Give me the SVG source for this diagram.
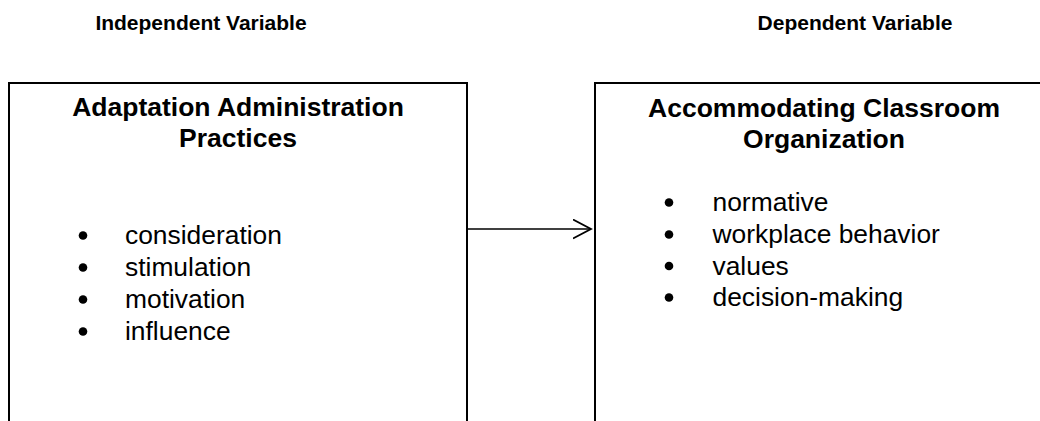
<svg xmlns="http://www.w3.org/2000/svg" width="1040" height="421" viewBox="0 0 1040 421">
  <style>
    .hdr { font-family: "Liberation Sans", Arial, sans-serif; font-weight: bold; font-size: 21px; fill: #000; text-anchor: middle; }
    .ttl { font-family: "Liberation Sans", Arial, sans-serif; font-weight: bold; font-size: 26.5px; fill: #000; text-anchor: middle; }
    .itm { font-family: "Liberation Sans", Arial, sans-serif; font-size: 26.4px; fill: #000; }
    .box { fill: #fff; stroke: #000; stroke-width: 2; }
    .bul { fill: #000; }
    .con { stroke: #000; stroke-width: 1.6; fill: none; }
  </style>
  <defs>
    <marker id="open" markerWidth="20" markerHeight="22" refX="18" refY="10" orient="auto" markerUnits="userSpaceOnUse">
      <polyline points="0,0.5 18,10 0,19.5" fill="none" stroke="#000" stroke-width="1.8"/>
    </marker>
  </defs>
  <rect width="1040" height="421" fill="#fff"/>
  <g id="header-independent">
    <text class="hdr" x="201" y="30">Independent Variable</text>
  </g>
  <g id="header-dependent">
    <text class="hdr" x="855" y="30">Dependent Variable</text>
  </g>
  <g id="node-independent">
    <rect class="box" x="9" y="83" width="458" height="400"/>
    <text class="ttl" x="238" y="116">Adaptation Administration</text>
    <text class="ttl" x="238" y="147">Practices</text>
    <circle class="bul" cx="83" cy="235.5" r="4.3"/>
    <text class="itm" x="125" y="244">consideration</text>
    <circle class="bul" cx="83" cy="267.5" r="4.3"/>
    <text class="itm" x="125" y="276">stimulation</text>
    <circle class="bul" cx="83" cy="299.5" r="4.3"/>
    <text class="itm" x="125" y="308">motivation</text>
    <circle class="bul" cx="83" cy="331.5" r="4.3"/>
    <text class="itm" x="125" y="340">influence</text>
  </g>
  <g id="node-dependent">
    <rect class="box" x="595" y="83" width="460" height="400"/>
    <text class="ttl" x="824" y="116.5">Accommodating Classroom</text>
    <text class="ttl" x="824" y="147.5">Organization</text>
    <circle class="bul" cx="669" cy="202.5" r="4.3"/>
    <text class="itm" x="712.5" y="211">normative</text>
    <circle class="bul" cx="669" cy="234.5" r="4.3"/>
    <text class="itm" x="712.5" y="243">workplace behavior</text>
    <circle class="bul" cx="669" cy="266" r="4.3"/>
    <text class="itm" x="712.5" y="274.5">values</text>
    <circle class="bul" cx="669" cy="297.5" r="4.3"/>
    <text class="itm" x="712.5" y="306">decision-making</text>
  </g>
  <g id="connectors">
    <line class="con" x1="467" y1="229" x2="591" y2="229" marker-end="url(#open)"/>
  </g>
</svg>
